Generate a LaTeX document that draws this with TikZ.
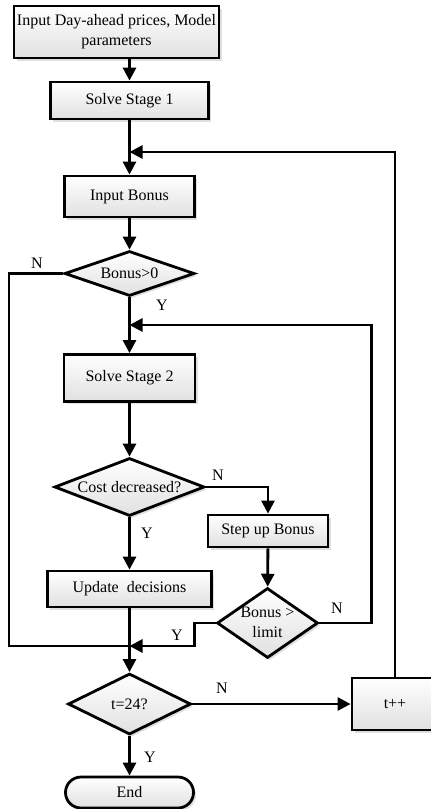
\documentclass[tikz,border=0pt]{standalone}
\usepackage{fontspec}
\setmainfont{Liberation Serif}
\usetikzlibrary{shapes.geometric,shapes.misc,arrows.meta,shadows}

\begin{document}
\begin{tikzpicture}[x=1pt,y=-1pt,
  font=\fontsize{16}{20}\selectfont,
  base/.style={draw=black, line width=2.8pt, top color=white, bottom color=black!12,
    inner sep=0pt, align=center,
    drop shadow={shadow xshift=2.5pt, shadow yshift=-2.5pt, fill=black!25, opacity=0.5}},
  proc/.style={base, rectangle},
  dec/.style={base, diamond},
  term/.style={base, rounded rectangle},
  flow/.style={line width=2.8pt, -{Triangle[length=13pt,width=13pt]}},
  wire/.style={line width=2.8pt},
  tag/.style={inner sep=0pt}
]
\useasboundingbox (0,0) rectangle (431,809);

% process column
\node[proc, minimum width=205, minimum height=52] (start) at (116.5,32)
  {Input Day-ahead prices, Model\\parameters};
\node[proc, minimum width=158, minimum height=37] (s1) at (129.5,100.5) {Solve Stage 1};
\node[proc, minimum width=130, minimum height=41] (ib) at (129.5,196.5) {Input Bonus};
\node[dec, minimum width=130, minimum height=45] (b0) at (129.5,273.5) {\makebox[0pt]{Bonus>0}};
\node[proc, minimum width=131, minimum height=47] (s2) at (129.5,378) {Solve Stage 2};
\node[dec, minimum width=150, minimum height=58] (cd) at (129.5,487) {\makebox[0pt]{Cost decreased?}};
\node[proc, minimum width=164, minimum height=36] (ud) at (129.5,589) {Update\ \ decisions};
\node[dec, minimum width=123, minimum height=61] (t24) at (129.5,704) {\makebox[0pt]{t=24?}};
\node[term, minimum width=128, minimum height=31] (end) at (129.5,792.5) {End};

% bonus branch
\node[proc, minimum width=120, minimum height=32] (su) at (268,531) {Step up Bonus};
\node[dec, minimum width=101, minimum height=70] (bl) at (267.5,623)
  {\makebox[0pt]{\begin{tabular}{@{}c@{}}Bonus >\\limit\end{tabular}}};
\node[proc, minimum width=86, minimum height=52] (tp) at (395,704) {t++};

% junction points on the main column
\coordinate (j1) at (129.5,152);
\coordinate (j2) at (129.5,325);
\coordinate (j3) at (129.5,646);
\coordinate (lx) at (9,0);

% straight flow
\draw[flow] (s1.north |- start.south) -- (s1.north);
\draw[flow] (s1) -- (ib);
\draw[flow] (ib) -- (b0);
\draw[flow] (b0) -- (s2);
\draw[flow] (s2) -- (cd);
\draw[flow] (cd) -- (ud);
\draw[flow] (ud) -- (t24);
\draw[flow] (t24) -- (end);
\draw[flow] (cd.east) -| (su.north);
\draw[flow] (su) -- (bl);
\draw[flow] (t24.east) -- (tp.west);

% loops back
\draw[flow] (tp.north) |- (j1);
\draw[flow] (bl.east) -- ++(52,0) |- (j2);
\draw[wire] (b0.west) -- (b0.west -| lx) |- (j3);
\draw[flow] (bl.west) -- ++(-21,0) |- (j3);

% branch labels
\node[tag] (nb0) at (37,263) {N};
\node[tag] (yb0) at (162,305) {Y};
\node[tag] (ncd) at (218,475) {N};
\node[tag] (ycd) at (147,533) {Y};
\node[tag] (nbl) at (337,608) {N};
\node[tag] (ybl) at (177,635) {Y};
\node[tag] (nt) at (222,688) {N};
\node[tag] (yt) at (150,757) {Y};
\end{tikzpicture}
\end{document}
